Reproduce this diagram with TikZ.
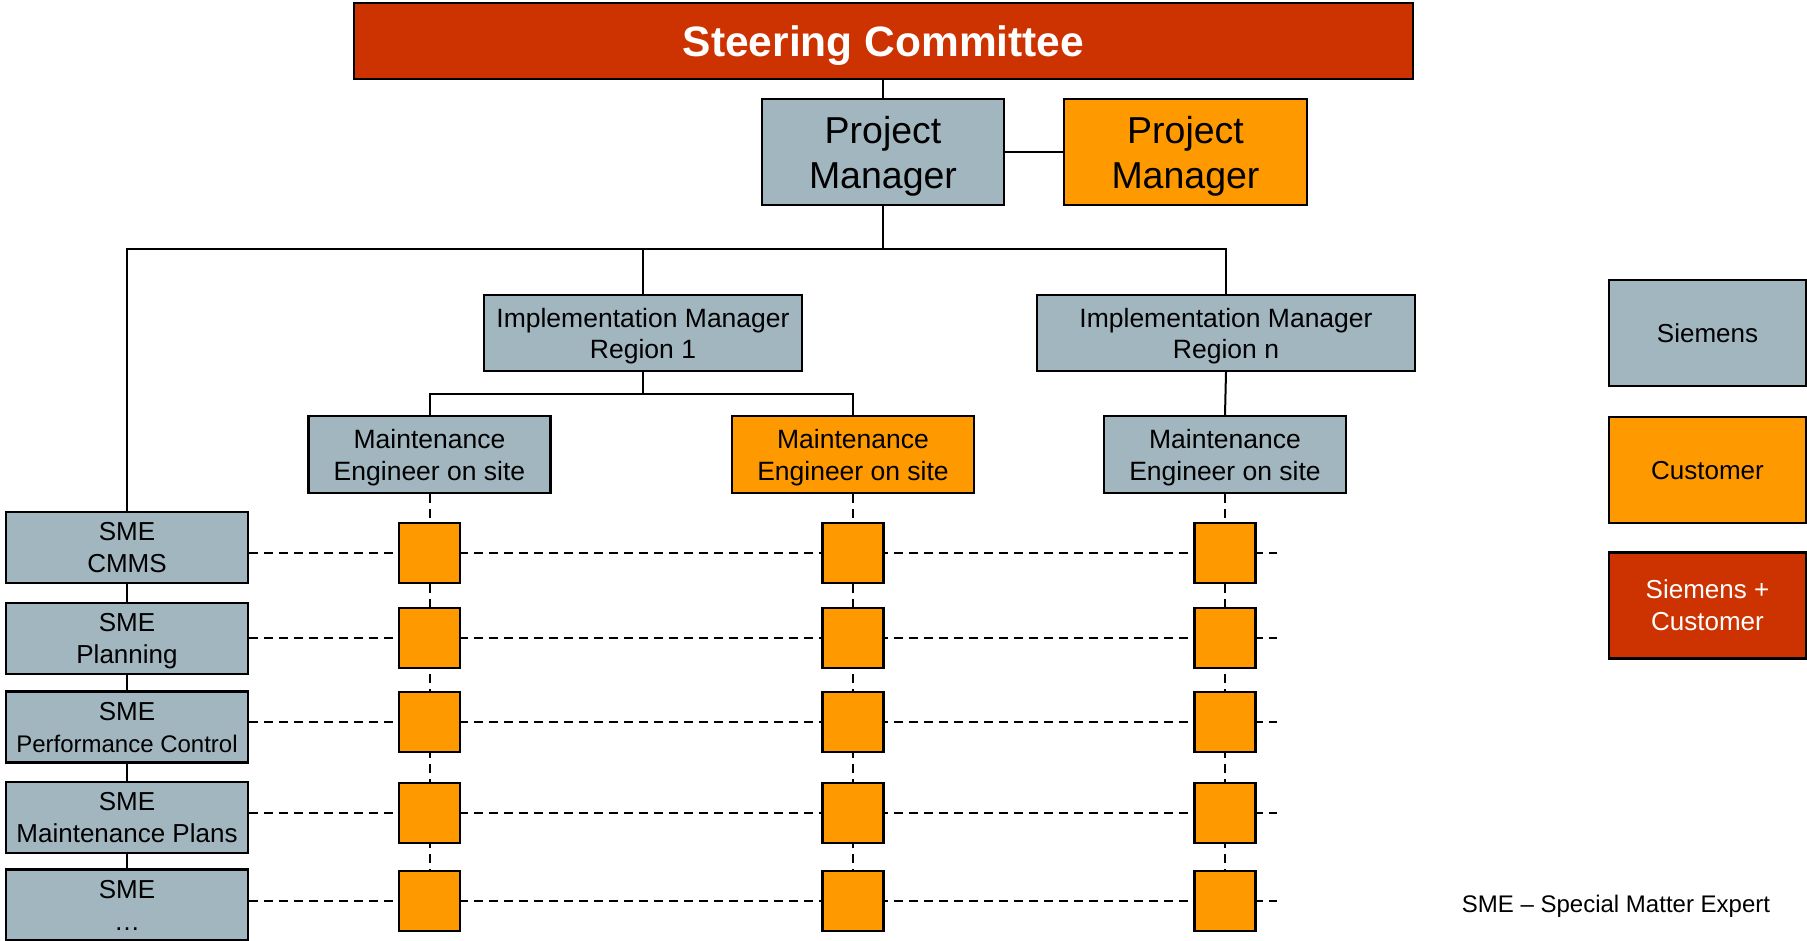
\documentclass[tikz,border=0pt]{standalone}
\usepackage{fontspec}
\setmainfont{Liberation Sans}
\usetikzlibrary{backgrounds}
\definecolor{sgrey}{RGB}{162,182,192}
\definecolor{corange}{RGB}{255,153,0}
\definecolor{sred}{RGB}{204,51,0}
\tikzset{
 box/.style={draw=black, line width=2.2pt, inner sep=0pt, align=center, text=black},
 greybox/.style={box, fill=sgrey},
 orbox/.style={box, fill=corange},
 redbox/.style={box, fill=sred, text=white},
 sqbox/.style={orbox, minimum width=61pt, minimum height=60pt},
 conn/.style={draw=black, line width=2pt},
 dashln/.style={draw=black, line width=2pt, dash pattern=on 9pt off 6pt},
 midfont/.style={font=\fontsize{26.5}{32}\selectfont},
 imbox/.style={greybox, font=\fontsize{26.5}{31}\selectfont, minimum height=76pt, text depth=-1.4pt},
 mebox/.style={midfont, minimum width=242pt, minimum height=77pt, text depth=-4.4pt},
 smebox/.style={greybox, font=\fontsize{26}{32}\selectfont, minimum width=242pt, minimum height=71pt, text depth=-5pt},
 legbox/.style={font=\fontsize{26}{32}\selectfont, minimum width=197pt, minimum height=106pt},
 pmbox/.style={minimum height=106pt, font=\fontsize{37.5}{45}\selectfont, text depth=0pt},
}
\begin{document}
\begin{tikzpicture}[x=1pt,y=-1pt]
\useasboundingbox (0,0) rectangle (1807,941);
% top
\node[redbox, minimum width=1059pt, minimum height=76pt, text depth=-3pt, font=\bfseries\fontsize{42.5}{48}\selectfont] (sc) at (883.5,41) {Steering Committee};
\node[greybox, pmbox, minimum width=242pt] (pmg) at (883,152) {Project\\Manager};
\node[orbox, pmbox, minimum width=243pt] (pmo) at (1185.5,152) {Project\\Manager};
% implementation managers
\node[imbox, minimum width=318pt] (im1) at (643,333) {Implementation Manager\\Region 1};
\node[imbox, minimum width=378pt] (imn) at (1226,333) {Implementation Manager\\Region n};
% maintenance engineers
\node[greybox, mebox] (mea) at (429.5,454.5) {Maintenance\\Engineer on site};
\node[orbox, mebox] (meb) at (853,454.5) {Maintenance\\Engineer on site};
\node[greybox, mebox] (mec) at (1225,454.5) {Maintenance\\Engineer on site};
% SMEs
\node[smebox] (sme1) at (127,547.5) {SME\\CMMS};
\node[smebox, text depth=-2.5pt] (sme2) at (127,638.5) {SME\\Planning};
\node[smebox] (sme3) at (127,727) {SME\\{\fontsize{24}{29}\selectfont Performance Control}};
\node[smebox, text depth=-6pt] (sme4) at (127,817.5) {SME\\Maintenance Plans};
\node[smebox, text depth=-4pt] (sme5) at (127,905) {SME\\…};
% squares
\foreach \c/\x in {a/429.5,b/853,c/1225}{
  \foreach \r/\y in {1/553,2/638,3/722,4/813,5/901}{
    \node[sqbox] (q\c\r) at (\x,\y) {};
  }
}
% legend
\node[greybox, legbox, text depth=-2.5pt] (lg1) at (1707.5,333) {Siemens};
\node[orbox, legbox, text depth=-4.5pt] (lg2) at (1707.5,470) {Customer};
\node[redbox, legbox, text depth=-3.5pt] (lg3) at (1707.5,605.5) {Siemens +\\Customer};
\node[font=\fontsize{24}{29}\selectfont, inner sep=0pt] (note) at (1616,906) {SME – Special Matter Expert};
% solid connectors
\coordinate (hub) at (883,249);
\coordinate (j1) at (643,394);
\draw[conn] (sc.south -| pmg.north) -- (pmg.north);
\draw[conn] (pmg) -- (pmo);
\draw[conn] (pmg.south) -- (hub) -| (sme1.north);
\draw[conn] (im1.north) |- (hub) -| (imn.north);
\draw[conn] (im1.south) -- (j1);
\draw[conn] (mea.north) |- (j1) -| (meb.north);
\draw[conn] (imn.south) -- (mec.north);
\draw[conn] (sme1) -- (sme2);
\draw[conn] (sme2) -- (sme3);
\draw[conn] (sme3) -- (sme4);
\draw[conn] (sme4) -- (sme5);
% dashed connectors
\begin{scope}[on background layer]
  \foreach \r/\y in {1/553,2/638,3/722,4/813,5/901}{
    \coordinate (hend\r) at (1277,\y);
    \draw[dashln] (sme\r.east |- hend\r) -- (hend\r);
  }
  \draw[dashln] (mea.south) -- (qa5.center);
  \draw[dashln] (meb.south) -- (qb5.center);
  \draw[dashln] (mec.south) -- (qc5.center);
\end{scope}
\end{tikzpicture}
\end{document}
